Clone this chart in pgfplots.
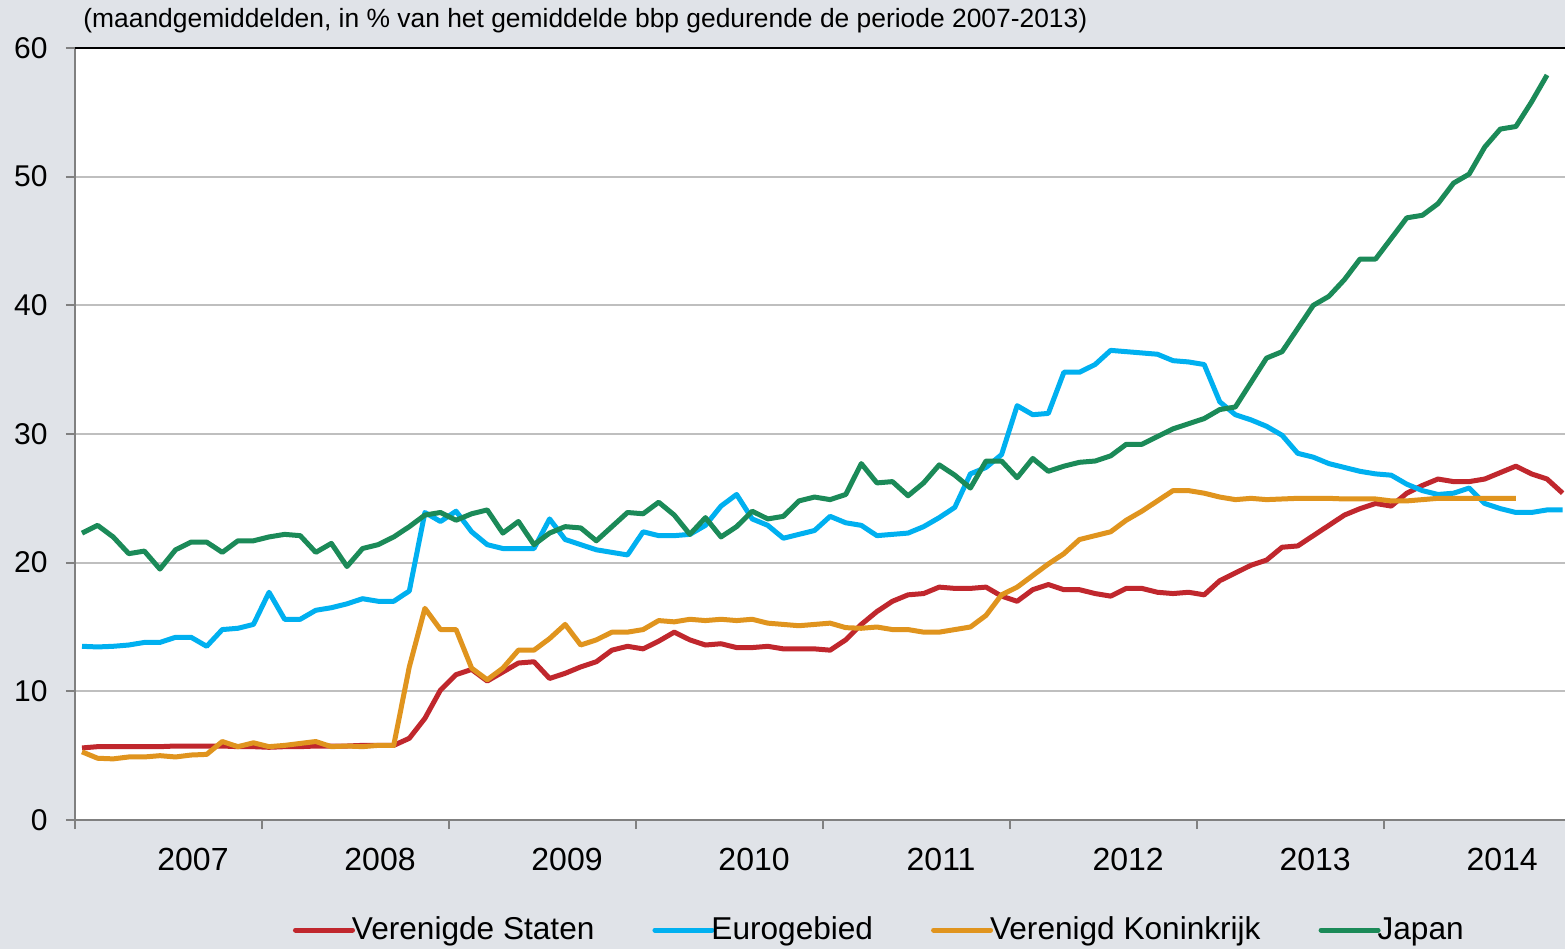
\documentclass[border=0pt]{standalone}
\usepackage{fontspec}
\setmainfont{Liberation Sans}
\usepackage{pgfplots}
\pgfplotsset{compat=1.18}
\usepackage{pgfplotstable}
\definecolor{bg}{RGB}{224,227,232}
\definecolor{cUS}{RGB}{192,39,45}
\definecolor{cEU}{RGB}{0,176,240}
\definecolor{cUK}{RGB}{224,148,30}
\definecolor{cJP}{RGB}{27,138,88}
\definecolor{gridc}{RGB}{191,191,191}
\definecolor{axc}{RGB}{128,128,128}

\pgfplotstableread{
y
5.6
5.7
5.7
5.7
5.7
5.7
5.75
5.75
5.75
5.75
5.7
5.7
5.65
5.7
5.7
5.75
5.75
5.75
5.8
5.8
5.8
6.35
7.9
10.1
11.3
11.7
10.8
11.5
12.2
12.3
11.0
11.4
11.9
12.3
13.2
13.5
13.3
13.9
14.6
14.0
13.6
13.7
13.4
13.4
13.5
13.3
13.3
13.3
13.2
14.0
15.2
16.2
17.0
17.5
17.6
18.1
18.0
18.0
18.1
17.4
17.0
17.9
18.3
17.9
17.9
17.6
17.4
18.0
18.0
17.7
17.6
17.7
17.5
18.6
19.2
19.8
20.2
21.2
21.3
22.1
22.9
23.7
24.2
24.6
24.4
25.4
26.0
26.5
26.3
26.3
26.5
27.0
27.5
26.9
26.5
25.4
}\tUS

\pgfplotstableread{
y
13.5
13.45
13.5
13.6
13.8
13.8
14.2
14.2
13.5
14.8
14.9
15.2
17.7
15.6
15.6
16.3
16.5
16.8
17.2
17.0
17.0
17.8
23.9
23.2
24.0
22.4
21.4
21.1
21.1
21.1
23.4
21.8
21.4
21.0
20.8
20.6
22.4
22.1
22.1
22.2
22.9
24.4
25.3
23.4
22.9
21.9
22.2
22.5
23.6
23.1
22.9
22.1
22.2
22.3
22.8
23.5
24.3
26.9
27.4
28.4
32.2
31.5
31.6
34.8
34.8
35.4
36.5
36.4
36.3
36.2
35.7
35.6
35.4
32.5
31.5
31.1
30.6
29.9
28.5
28.2
27.7
27.4
27.1
26.9
26.8
26.1
25.6
25.3
25.4
25.8
24.6
24.2
23.9
23.9
24.1
24.1
}\tEU

\pgfplotstableread{
y
5.3
4.8
4.75
4.9
4.9
5.0
4.9
5.05
5.1
6.1
5.7
6.0
5.7
5.8
5.95
6.1
5.7
5.75
5.7
5.8
5.8
11.9
16.45
14.8
14.8
11.8
10.9
11.8
13.2
13.2
14.1
15.2
13.6
14.0
14.6
14.6
14.8
15.5
15.4
15.6
15.5
15.6
15.5
15.6
15.3
15.2
15.1
15.2
15.3
14.95
14.9
15.0
14.8
14.8
14.6
14.6
14.8
15.0
15.9
17.5
18.1
19.0
19.9
20.7
21.8
22.1
22.4
23.3
24.0
24.8
25.6
25.6
25.4
25.1
24.9
25.0
24.9
24.95
25.0
25.0
25.0
24.95
24.95
24.95
24.8
24.8
24.9
25.0
25.0
25.0
25.0
25.0
25.0
}\tUK

\pgfplotstableread{
y
22.3
22.9
22.0
20.7
20.9
19.5
21.0
21.6
21.6
20.8
21.7
21.7
22.0
22.2
22.1
20.8
21.5
19.7
21.1
21.4
22.0
22.8
23.7
23.9
23.3
23.8
24.1
22.3
23.2
21.4
22.3
22.8
22.7
21.7
22.8
23.9
23.8
24.7
23.7
22.2
23.5
22.0
22.8
24.0
23.4
23.6
24.8
25.1
24.9
25.3
27.7
26.2
26.3
25.2
26.2
27.6
26.8
25.8
27.9
27.9
26.6
28.1
27.1
27.5
27.8
27.9
28.3
29.2
29.2
29.8
30.4
30.8
31.2
31.9
32.1
34.0
35.9
36.4
38.2
40.0
40.7
42.0
43.6
43.6
45.2
46.8
47.0
47.9
49.5
50.2
52.3
53.7
53.9
55.8
57.9
}\tJP

\begin{document}
\begin{tikzpicture}
\useasboundingbox (0,0) rectangle (782.5pt,474.5pt);
\fill[bg] (0,0) rectangle (782.5pt,474.5pt);
\node[anchor=base west, inner sep=0pt, font=\fontsize{13.2}{15}\selectfont] at (41.5pt,460.5pt)
  {(maandgemiddelden, in \% van het gemiddelde bbp gedurende de periode 2007-2013)};
\begin{axis}[
  at={(37.5pt,64.5pt)}, anchor=south west,
  scale only axis, width=745pt, height=386pt,
  xmin=0, xmax=95.6, ymin=0, ymax=60,
  clip=false,
  axis background/.style={fill=white},
  axis x line*=bottom, axis y line*=left,
  axis line style={axc, line width=1.3pt, -},
  xtick={0,12,...,84}, xticklabels={},
  extra x ticks={7.57,19.57,31.57,43.57,55.57,67.57,79.57,91.57},
  extra x tick labels={2007,2008,2009,2010,2011,2012,2013,2014},
  extra x tick style={major tick length=0pt},
  ytick={0,10,...,60},
  ymajorgrids, grid style={gridc, line width=1pt},
  tick align=outside, major tick length=4.5pt,
  tick style={axc, line width=1pt},
  /pgf/number format/assume math mode=true,
  yticklabel style={font=\fontsize{15}{18}\selectfont, anchor=east, inner sep=0pt, xshift=-9pt},
  xticklabel style={font=\fontsize{16}{19}\selectfont, anchor=north, inner sep=0pt, yshift=-14pt},
  every axis plot/.append style={line width=2.5pt, line join=round, no markers},
  legend columns=4,
  legend style={draw=none, fill=none, at={(0.1463,-0.1425)}, anchor=west,
    font=\fontsize{15.8}{18}\selectfont, inner sep=0pt, outer sep=0pt,
    nodes={inner sep=0pt},
    /tikz/every even column/.append style={column sep=29pt},
    /tikz/every odd column/.append style={column sep=-1.5pt}},
  legend image code/.code={\draw[#1, line cap=round] (0pt,0pt) -- (28.5pt,0pt);},
]
\addplot[cUS] table[x expr=\coordindex+0.45, y=y] {\tUS};
\addlegendentry{Verenigde Staten}
\addplot[cEU] table[x expr=\coordindex+0.45, y=y] {\tEU};
\addlegendentry{Eurogebied}
\addplot[cUK] table[x expr=\coordindex+0.45, y=y] {\tUK};
\addlegendentry{Verenigd Koninkrijk}
\addplot[cJP] table[x expr=\coordindex+0.45, y=y] {\tJP};
\addlegendentry{Japan}
\draw[black, line width=1.2pt] (rel axis cs:0,1) -- (rel axis cs:1,1);
\end{axis}
\end{tikzpicture}
\end{document}
